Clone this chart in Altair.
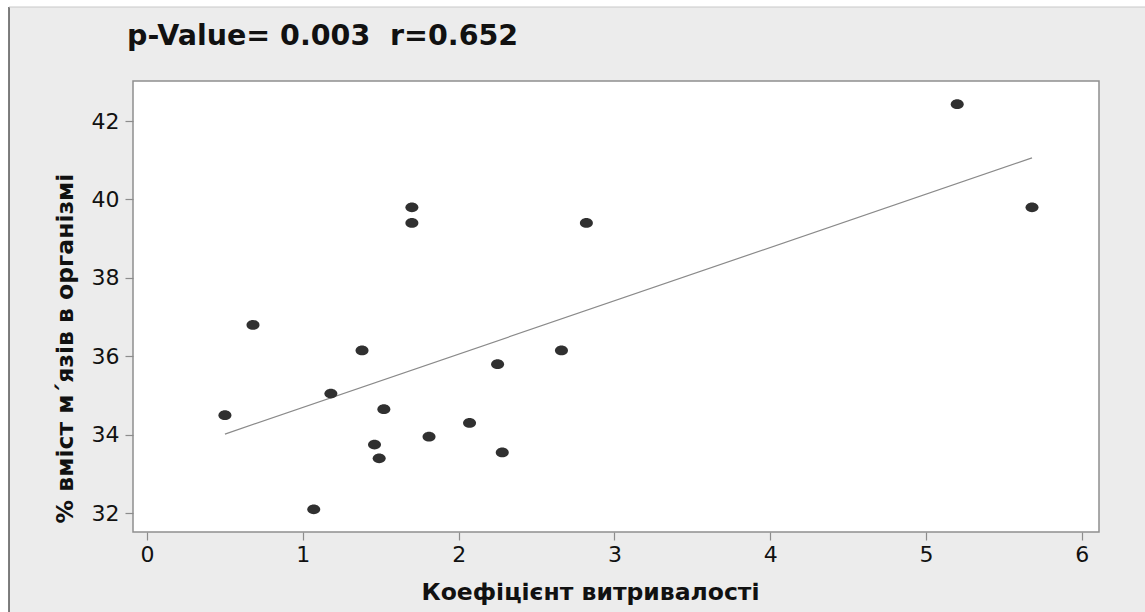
import altair as alt
import pandas as pd

# --- data ---
koef = [0.50, 0.68, 1.07, 1.18, 1.38, 1.52, 1.46, 1.49, 1.70, 1.70, 1.81, 2.07, 2.25, 2.28, 2.66, 2.82, 5.20, 5.68]
muscle = [34.5, 36.8, 32.1, 35.05, 36.15, 34.65, 33.75, 33.4, 39.8, 39.4, 33.95, 34.3, 35.8, 33.55, 36.15, 39.4, 42.43, 39.8]
x_ticks = [0, 1, 2, 3, 4, 5, 6]
y_ticks = [32, 34, 36, 38, 40, 42]
title_text = "p-Value= 0.003\u00a0 r=0.652"
x_title = "Коефіцієнт витривалості"
y_title = "% вміст м´язів в організмі"

df = pd.DataFrame({"x": koef, "y": muscle})

W, H = 966, 451
FONT = "DejaVu Sans"
ELLIPSE = "M-1,0A1,0.75,0,1,1,1,0A1,0.75,0,1,1,-1,0Z"

xscale = alt.Scale(domain=[-0.09, 6.11], nice=False, zero=False)
yscale = alt.Scale(domain=[31.52, 43.02], nice=False, zero=False)

x_axis = alt.Axis(
    values=x_ticks, format="d", title=x_title, domain=False, grid=False,
    tickSize=8, tickColor="#8c8c8c", tickWidth=1.2,
    labelFont=FONT, labelFontSize=22, labelColor="#111111", labelPadding=4,
    titleFont=FONT, titleFontWeight="bold", titleFontSize=23.5, titleColor="#111111",
    titleX=457, titleY=67, titleBaseline="alphabetic", titleAlign="center",
)
y_axis = alt.Axis(
    values=y_ticks, format="d", title=y_title, domain=False, grid=False,
    tickSize=8, tickColor="#8c8c8c", tickWidth=1.2,
    labelFont=FONT, labelFontSize=22, labelColor="#111111", labelPadding=6,
    titleFont=FONT, titleFontWeight="bold", titleFontSize=23.5, titleColor="#111111",
    titleX=-68, titleY=267, titleBaseline="middle", titleAlign="center", titleAngle=-90,
)

base = alt.Chart(df)

points = base.mark_point(
    shape=ELLIPSE, filled=True, size=169, color="#303030", opacity=1
).encode(
    x=alt.X("x:Q", scale=xscale, axis=x_axis),
    y=alt.Y("y:Q", scale=yscale, axis=y_axis),
)

fit = base.transform_regression("x", "y").mark_line(
    color="#8a8a8a", strokeWidth=1.2
).encode(
    x=alt.X("x:Q", scale=xscale),
    y=alt.Y("y:Q", scale=yscale),
)

# decorative page frame (white margin + border lines), outside the plot area
deco = pd.DataFrame({"k": [0]})
white_left = alt.Chart(deco).mark_rect(color="white").encode(
    x=alt.value(-133), x2=alt.value(-124), y=alt.value(-81), y2=alt.value(H + 80))
white_top = alt.Chart(deco).mark_rect(color="white").encode(
    x=alt.value(-133), x2=alt.value(W + 46), y=alt.value(-81), y2=alt.value(-74))
line_left = alt.Chart(deco).mark_rule(color="#555555", strokeWidth=1.5).encode(
    x=alt.value(-124), y=alt.value(-74), y2=alt.value(H + 80))
line_top = alt.Chart(deco).mark_rule(color="#c8c8c8", strokeWidth=1).encode(
    x=alt.value(-124), x2=alt.value(W + 46), y=alt.value(-74))

chart = alt.layer(white_left, white_top, line_left, line_top, fit, points).properties(
    width=W, height=H,
    autosize="none",
    padding={"left": 133, "top": 81, "right": 46, "bottom": 80},
    background="#ececec",
    title=alt.Title(
        title_text, anchor="start", frame="group", dx=-6, dy=73, offset=0,
        font=FONT, fontSize=28.5, fontWeight="bold", color="#111111", baseline="alphabetic",
    ),
).configure_view(fill="white", stroke="#8f8f8f", strokeWidth=1.5)

chart.save("out.html", embed_options={"renderer": "svg", "actions": False})
